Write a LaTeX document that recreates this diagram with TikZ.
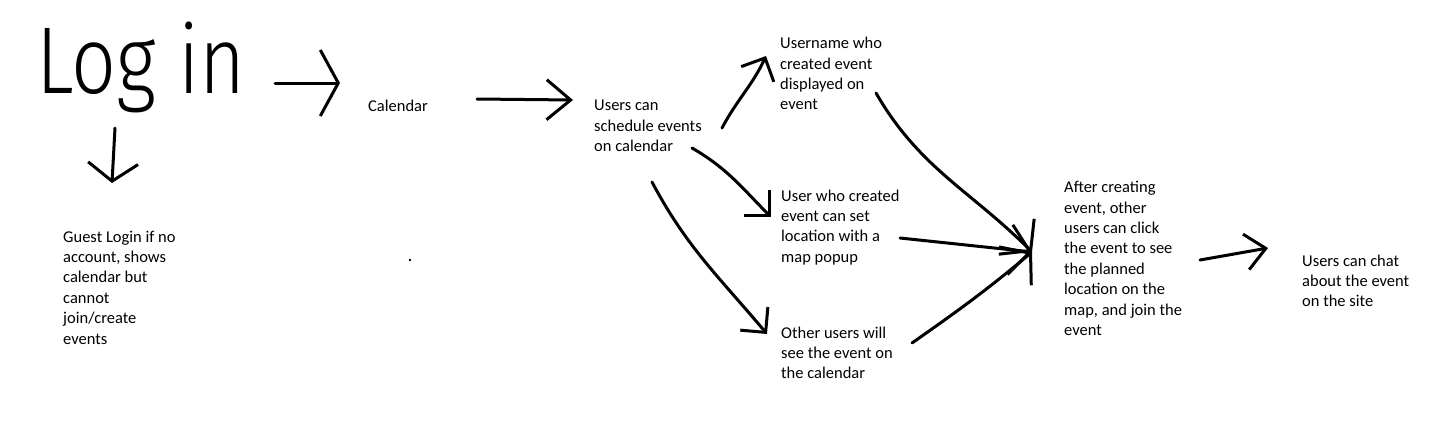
\documentclass[tikz,border=0pt]{standalone}
\usepackage{fontspec}
\setmainfont{Carlito}
\newfontfamily\handfont{Fira Sans}[UprightFont={* Light}]
\usetikzlibrary{arrows.meta,positioning}
\tikzset{
  note/.style={font=\fontsize{16.5}{20.4}\selectfont, align=left, inner sep=0pt, anchor=north west},
  scrawl/.style={line width=3pt, line cap=round, line join=round,
    -{Straight Barb[length=18pt,width=36pt]}},
}

\begin{document}
\begin{tikzpicture}[x=1pt,y=1pt]
\useasboundingbox (0,0) rectangle (1441,-437);

\node[anchor=base west, inner sep=0pt, font=\handfont\fontsize{95}{95}\selectfont] (login) at (36,-93) {\scalebox{0.83}[1]{Log in}};
\node[note, anchor=base west] (cal) at (368,-111) {Calendar};
\node[note] (guest) at (63,-230.5) {Guest Login if no\\account, shows\\calendar but\\cannot\\join/create\\events};
\node[note] (sched) at (594,-100) {Users can\\schedule events\\on calendar};
\node[note] (uname) at (780,-37) {Username who\\created event\\displayed on\\event};
\node[note] (setloc) at (781,-189.5) {User who created\\event can set\\location with a\\map popup};
\node[note] (others) at (781,-326.5) {Other users will\\see the event on\\the calendar};
\node[note] (after) at (1064,-181) {After creating\\event, other\\users can click\\the event to see\\the planned\\location on the\\map, and join the\\event};
\node[note] (chat) at (1302,-254.5) {Users can chat\\about the event\\on the site};

\fill (410,-260) circle (1.3pt);

\path[scrawl]
([shift={(239,10)}]login.base west) edge[-{Straight Barb[length=18pt,width=66pt]}] ([shift={(-28,28)}]cal.base west)
([shift={(79,-35)}]login.base west) edge[-{Straight Barb[length=18pt,width=50pt]}] ([shift={(49,47.5)}]guest.north west)
([shift={(109,12)}]cal.base west) edge[-{Straight Barb[length=24pt,width=40pt]}] ([shift={(-21,0)}]sched.north west)

([shift={(128,-28)}]sched.north west) edge[out=62,in=-115] ([shift={(-14,-19)}]uname.north west)
([shift={(98,-48)}]sched.north west) edge[out=-30,in=135] ([shift={(-10,-27.5)}]setloc.north west)
([shift={(58,-82)}]sched.north west) edge[out=-62,in=130] ([shift={(-14,-7.5)}]others.north west)

([shift={(96,-56)}]uname.north west) edge[out=-60,in=135,-{Straight Barb[length=20pt,width=50pt]}] ([shift={(-32,-71)}]after.north west)
([shift={(119,-48.5)}]setloc.north west) edge[-{Straight Barb[length=20pt,width=50pt]}] ([shift={(-32,-71)}]after.north west)
([shift={(131,-16.5)}]others.north west) edge[out=35,in=-140,-{Straight Barb[length=20pt,width=50pt]}] ([shift={(-32,-71)}]after.north west)

([shift={(136,-79)}]after.north west) edge[-{Straight Barb[length=20pt,width=36pt]}] ([shift={(-34,6.5)}]chat.north west);

\end{tikzpicture}
\end{document}
